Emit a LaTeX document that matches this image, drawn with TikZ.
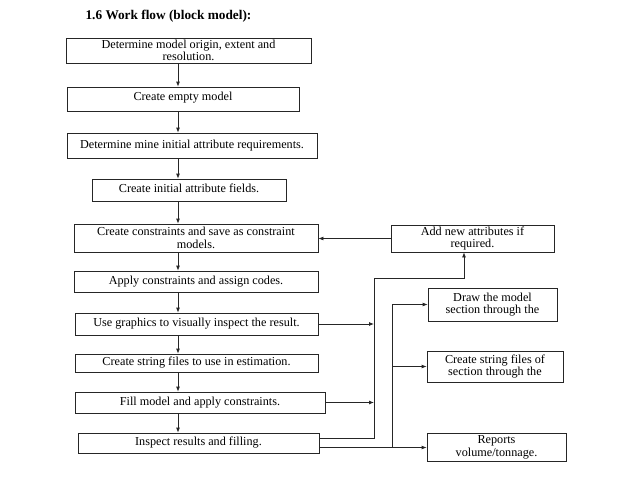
\documentclass[tikz,border=0pt]{standalone}
\usepackage{fontspec}
\setmainfont{Liberation Serif}
\usetikzlibrary{arrows.meta,calc}

\tikzset{
  stepbox/.style={draw=black!85, line width=0.8pt, align=center, inner sep=1pt,
                  font=\fontsize{12.2}{12.5}\selectfont},
  flow/.style={draw=black!85, line width=0.8pt, -{Latex[length=5pt,width=4pt]}},
  wire/.style={draw=black!85, line width=0.8pt}
}

\begin{document}
\begin{tikzpicture}[x=1pt,y=-1pt]
  % Marco de la imagen (pixeles de la referencia)
  \useasboundingbox (0,0) rectangle (638,479);

  % Columnas de conexion
  \def\spinex{178}  % eje de las flechas verticales
  \def\busax{374}   % primer bus vertical
  \def\busbx{392}   % segundo bus vertical
  \coordinate (spine) at (\spinex,0);
  \coordinate (busA) at (\busax,0);
  \coordinate (busB) at (\busbx,0);
  \coordinate (upA) at (464,278);

  % Titulo
  \node[font=\fontsize{13.3}{15}\selectfont\bfseries] (title) at (168.5,16) {1.6 Work flow (block model):};

  % Cadena principal
  \node[stepbox, minimum width=245, minimum height=25] (origin) at (188.5,50.5)
    {Determine model origin, extent and\\resolution.};
  \node[stepbox, minimum width=232, minimum height=24, text depth=6pt] (empty) at (183,99)
    {Create empty model};
  \node[stepbox, minimum width=250, minimum height=25] (attreq) at (192,145.5)
    {Determine mine initial attribute requirements.};
  \node[stepbox, minimum width=194, minimum height=22, text depth=4pt] (fields) at (189,190)
    {Create initial attribute fields.};
  \node[stepbox, minimum width=244, minimum height=28] (constr) at (196,238)
    {Create constraints and save as constraint\\models.};
  \node[stepbox, minimum width=244, minimum height=21] (apply) at (196,281.5)
    {Apply constraints and assign codes.};
  \node[stepbox, minimum width=243, minimum height=22] (graph) at (196.5,324)
    {Use graphics to visually inspect the result.};
  \node[stepbox, minimum width=243, minimum height=18] (strest) at (196.5,363)
    {Create string files to use in estimation.};
  \node[stepbox, minimum width=250, minimum height=21] (fill) at (200,402.5)
    {Fill model and apply constraints.};
  \node[stepbox, minimum width=241, minimum height=20] (inspect) at (198.5,443)
    {Inspect results and filling.};

  % Cajas de la derecha
  \node[stepbox, minimum width=163, minimum height=27] (addattr) at (472.5,238.5)
    {Add new attributes if\\required.};
  \node[stepbox, minimum width=129, minimum height=33] (drawsec) at (492.5,304.5)
    {Draw the model\\section through the};
  \node[stepbox, minimum width=136, minimum height=31] (strsec) at (495,366.5)
    {Create string files of\\section through the};
  \node[stepbox, minimum width=139, minimum height=28] (reports) at (496.5,447.5)
    {Reports\\volume/tonnage.};

  % Flechas verticales
  \foreach \a/\b in {origin/empty, empty/attreq, attreq/fields, fields/constr,
                     constr/apply, apply/graph, graph/strest, strest/fill, fill/inspect}
    \draw[flow] (\a.south -| spine) -- (\b.north -| spine);

  % Retorno de atributos
  \draw[flow] (addattr.west) -- (constr.east |- addattr.west);

  % Primer bus
  \draw[flow] (graph.east) -- (graph.east -| busA);
  \draw[flow] (fill.east) -- (fill.east -| busA);
  \draw[flow] ([yshift=5pt]inspect.east) -| (busA |- upA) -| (addattr.south -| upA);

  % Segundo bus
  \draw[flow] (reports.west -| inspect.east) -- (reports.west);
  \draw[flow] (reports.west -| busB) |- (drawsec.west);
  \draw[flow] (strsec.west -| busB) -- (strsec.west);
\end{tikzpicture}
\end{document}
